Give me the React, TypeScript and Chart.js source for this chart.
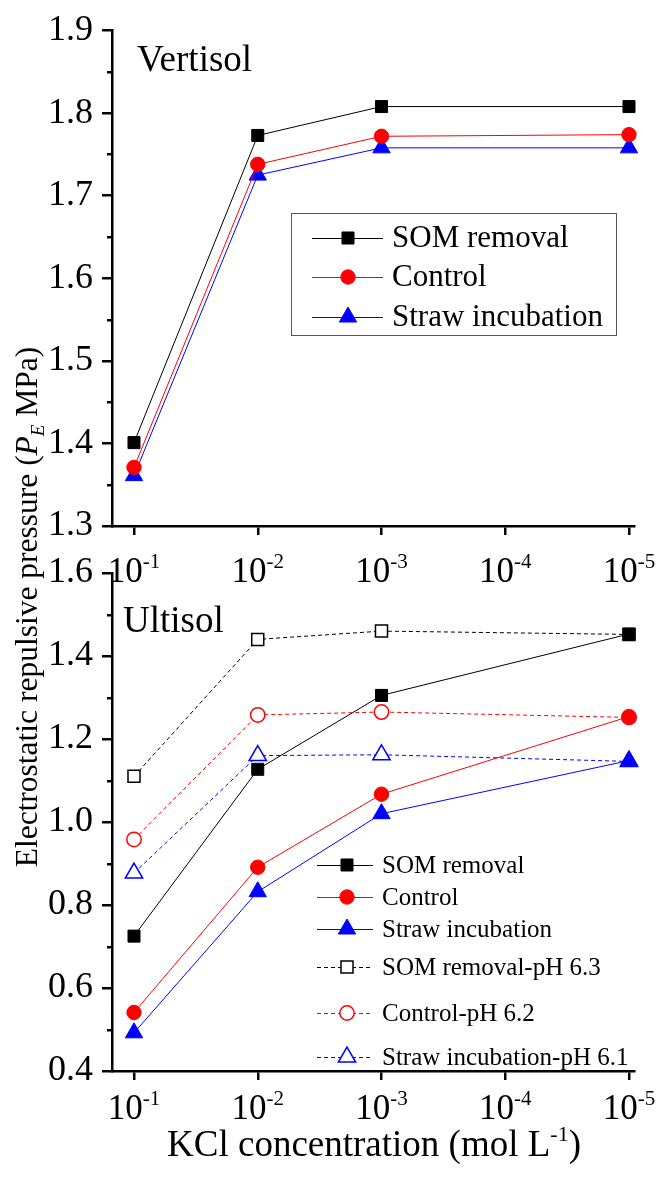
import React, { useEffect, useRef } from 'react';
import { Chart, registerables } from 'chart.js';

Chart.register(...registerables);

const FONT = '"Liberation Serif", "Times New Roman", Times, serif';

// ---- data ----
const concentrations = [1e-1, 1e-2, 1e-3, 1e-5];
const xTickValues = [1e-1, 1e-2, 1e-3, 1e-4, 1e-5];
const xTickExponents = ['-1', '-2', '-3', '-4', '-5'];

const vertSOM = [1.401, 1.773, 1.808, 1.808];
const vertControl = [1.371, 1.738, 1.772, 1.774];
const vertStraw = [1.361, 1.725, 1.758, 1.758];

const ultSOM = [0.725, 1.127, 1.305, 1.453];
const ultControl = [0.541, 0.891, 1.067, 1.254];
const ultStraw = [0.492, 0.832, 1.02, 1.148];
const ultSOMpH = [1.11, 1.44, 1.46, 1.452];
const ultControlpH = [0.958, 1.258, 1.265, 1.252];
const ultStrawpH = [0.877, 1.16, 1.162, 1.146];

const topMinorTicks = [1.35, 1.45, 1.55, 1.65, 1.75, 1.85];
const botMinorTicks = [0.5, 0.7, 0.9, 1.1, 1.3, 1.5];

const labelSOM = 'SOM removal';
const labelControl = 'Control';
const labelStraw = 'Straw incubation';
const labelSOMpH = 'SOM removal-pH 6.3';
const labelControlpH = 'Control-pH 6.2';
const labelStrawpH = 'Straw incubation-pH 6.1';

// ---- styles ----
const BLACK = '#000000';
const RED = '#ff0000';
const BLUE = '#0000ff';
const R_RECT = 8.5;
const R_CIRCLE = 7.2;
const R_TRI = 10;

const X_MIN = 9.11e-6;
const X_MAX = 0.1506;

type MarkerStyle = 'rect' | 'circle' | 'triangle';

function radiusFor(style: MarkerStyle) {
  return style === 'rect' ? R_RECT : style === 'circle' ? R_CIRCLE : R_TRI;
}

function makeDataset(label: string, values: number[], color: string, style: MarkerStyle, filled: boolean) {
  return {
    label,
    data: concentrations.map((c, i) => ({ x: c, y: values[i] })),
    borderColor: color,
    borderWidth: 1,
    borderDash: filled ? [] : [4, 3],
    pointStyle: style,
    pointRadius: radiusFor(style),
    pointHoverRadius: radiusFor(style),
    pointBackgroundColor: filled ? color : '#ffffff',
    pointBorderColor: color,
    pointBorderWidth: filled ? 1 : 1.5,
    tension: 0,
    fill: false,
    clip: false as any,
  };
}

function drawMarker(ctx: CanvasRenderingContext2D, style: MarkerStyle, x: number, y: number, color: string, filled: boolean) {
  const r = radiusFor(style);
  ctx.beginPath();
  if (style === 'rect') {
    const s = Math.SQRT1_2 * r;
    ctx.rect(x - s, y - s, 2 * s, 2 * s);
  } else if (style === 'circle') {
    ctx.arc(x, y, r, 0, Math.PI * 2);
  } else {
    ctx.moveTo(x, y - r);
    ctx.lineTo(x + r * Math.sin((2 * Math.PI) / 3), y - r * Math.cos((2 * Math.PI) / 3));
    ctx.lineTo(x + r * Math.sin((4 * Math.PI) / 3), y - r * Math.cos((4 * Math.PI) / 3));
    ctx.closePath();
  }
  ctx.fillStyle = filled ? color : '#ffffff';
  ctx.fill();
  ctx.setLineDash([]);
  ctx.lineWidth = filled ? 1 : 1.5;
  ctx.strokeStyle = color;
  ctx.stroke();
}

type LegendItem = { label: string; color: string; style: MarkerStyle; filled: boolean; y: number };

type Segment = { t: string; font: string; dy: number };

function drawSegments(ctx: CanvasRenderingContext2D, segs: Segment[], cx: number, baseline: number) {
  let total = 0;
  for (const s of segs) {
    ctx.font = s.font;
    total += ctx.measureText(s.t).width;
  }
  let x = cx - total / 2;
  ctx.textAlign = 'left';
  ctx.textBaseline = 'alphabetic';
  for (const s of segs) {
    ctx.font = s.font;
    ctx.fillText(s.t, x, baseline + s.dy);
    x += ctx.measureText(s.t).width;
  }
}

const overlayPlugin = {
  id: 'overlay',
  afterDraw(chart: any, _args: any, opts: any) {
    const ctx: CanvasRenderingContext2D = chart.ctx;
    const area = chart.chartArea;
    const xs = chart.scales.x;
    const ys = chart.scales.y;
    ctx.save();
    ctx.fillStyle = BLACK;
    ctx.strokeStyle = BLACK;

    // minor y ticks
    ctx.lineWidth = 2.5;
    ctx.setLineDash([]);
    for (const v of opts.minorTicks as number[]) {
      const py = Math.round(ys.getPixelForValue(v)) + 0.25;
      ctx.beginPath();
      ctx.moveTo(area.left - 5, py);
      ctx.lineTo(area.left, py);
      ctx.stroke();
    }

    // x tick labels 10^-n
    const base = area.bottom + opts.xLabelOffset;
    xTickValues.forEach((v, i) => {
      const px = xs.getPixelForValue(v);
      ctx.fillStyle = BLACK;
      drawSegments(
        ctx,
        [
          { t: '10', font: `35px ${FONT}`, dy: 0 },
          { t: xTickExponents[i], font: `21px ${FONT}`, dy: -14 },
        ],
        px,
        base
      );
    });

    // panel label
    ctx.font = `37px ${FONT}`;
    ctx.textAlign = 'left';
    ctx.textBaseline = 'alphabetic';
    ctx.fillText(opts.panelLabel, opts.panelLabelX, opts.panelLabelY);

    // legend
    const lg = opts.legend;
    if (lg.box) {
      ctx.lineWidth = 1;
      ctx.strokeStyle = '#555555';
      ctx.strokeRect(lg.box[0] + 0.5, lg.box[1] + 0.5, lg.box[2] - lg.box[0], lg.box[3] - lg.box[1]);
    }
    for (const it of lg.items as LegendItem[]) {
      ctx.beginPath();
      ctx.lineWidth = 1;
      ctx.strokeStyle = it.color;
      ctx.setLineDash(it.filled ? [] : [4, 3]);
      ctx.moveTo(lg.lineX1, it.y + 0.5);
      ctx.lineTo(lg.lineX2, it.y + 0.5);
      ctx.stroke();
      ctx.setLineDash([]);
      drawMarker(ctx, it.style, lg.markerX, it.y, it.color, it.filled);
      ctx.fillStyle = BLACK;
      ctx.font = `${lg.fontSize}px ${FONT}`;
      ctx.textAlign = 'left';
      ctx.textBaseline = 'middle';
      ctx.fillText(it.label, lg.textX, it.y + 1);
    }

    // axis titles
    if (opts.titles) {
      ctx.fillStyle = BLACK;
      drawSegments(
        ctx,
        [
          { t: 'KCl concentration (mol L', font: `37px ${FONT}`, dy: 0 },
          { t: '-1', font: `22px ${FONT}`, dy: -15 },
          { t: ')', font: `37px ${FONT}`, dy: 0 },
        ],
        opts.xTitleX,
        opts.xTitleY
      );
      ctx.save();
      ctx.translate(opts.yTitleX, opts.yTitleY);
      ctx.rotate(-Math.PI / 2);
      drawSegments(
        ctx,
        [
          { t: 'Electrostatic repulsive pressure (', font: `31.5px ${FONT}`, dy: 0 },
          { t: 'P', font: `italic 31.5px ${FONT}`, dy: 0 },
          { t: 'E', font: `italic 19px ${FONT}`, dy: 7 },
          { t: ' MPa)', font: `31.5px ${FONT}`, dy: 0 },
        ],
        0,
        11
      );
      ctx.restore();
    }
    ctx.restore();
  },
};

function axisOptions(yMin: number, yMax: number, step: number, xHeight: number) {
  return {
    x: {
      type: 'logarithmic' as const,
      reverse: true,
      min: X_MIN,
      max: X_MAX,
      afterBuildTicks: (scale: any) => {
        scale.ticks = xTickValues.map((v) => ({ value: v }));
      },
      afterFit: (scale: any) => {
        scale.height = xHeight;
      },
      ticks: { display: false },
      grid: {
        drawOnChartArea: false,
        drawTicks: true,
        tickLength: 9,
        tickWidth: 2.5,
        tickColor: BLACK,
        color: BLACK,
        lineWidth: 2.5,
      },
      border: { display: true, width: 2.5, color: BLACK },
    },
    y: {
      type: 'linear' as const,
      min: yMin,
      max: yMax,
      afterFit: (scale: any) => {
        scale.width = 112;
      },
      ticks: {
        stepSize: step,
        color: BLACK,
        padding: 9,
        font: { family: FONT, size: 36 },
        callback: (v: any) => Number(v).toFixed(1),
      },
      grid: {
        drawOnChartArea: false,
        drawTicks: true,
        tickLength: 10,
        tickWidth: 2.5,
        tickColor: BLACK,
        color: BLACK,
        lineWidth: 2.5,
      },
      border: { display: true, width: 2.5, color: BLACK },
    },
  };
}

const TOP_H = 600;
const BOT_H = 1178;

function buildTop(): any {
  return {
    type: 'line',
    data: {
      datasets: [
        makeDataset(labelSOM, vertSOM, BLACK, 'rect', true),
        makeDataset(labelControl, vertControl, RED, 'circle', true),
        makeDataset(labelStraw, vertStraw, BLUE, 'triangle', true),
      ],
    },
    options: {
      responsive: false,
      animation: false,
      events: [],
      layout: { padding: { top: 27, right: 24, left: 0, bottom: 0 } },
      scales: axisOptions(1.3, 1.9, 0.1, TOP_H - 526),
      plugins: {
        legend: { display: false },
        tooltip: { enabled: false },
        title: { display: false },
        overlay: {
          minorTicks: topMinorTicks,
          xLabelOffset: 56,
          panelLabel: 'Vertisol',
          panelLabelX: 137,
          panelLabelY: 71,
          legend: {
            box: [291, 213, 616, 335],
            lineX1: 312,
            lineX2: 383,
            markerX: 348,
            textX: 392,
            fontSize: 31,
            items: [
              { label: labelSOM, color: BLACK, style: 'rect', filled: true, y: 238 },
              { label: labelControl, color: RED, style: 'circle', filled: true, y: 277 },
              { label: labelStraw, color: BLUE, style: 'triangle', filled: true, y: 317 },
            ],
          },
          titles: false,
        },
      },
    },
    plugins: [overlayPlugin],
  };
}

function buildBottom(): any {
  return {
    type: 'line',
    data: {
      datasets: [
        makeDataset(labelSOM, ultSOM, BLACK, 'rect', true),
        makeDataset(labelControl, ultControl, RED, 'circle', true),
        makeDataset(labelStraw, ultStraw, BLUE, 'triangle', true),
        makeDataset(labelSOMpH, ultSOMpH, BLACK, 'rect', false),
        makeDataset(labelControlpH, ultControlpH, RED, 'circle', false),
        makeDataset(labelStrawpH, ultStrawpH, BLUE, 'triangle', false),
      ],
    },
    options: {
      responsive: false,
      animation: false,
      events: [],
      layout: { padding: { top: 573, right: 24, left: 0, bottom: 0 } },
      scales: axisOptions(0.4, 1.6, 0.2, BOT_H - 1071),
      plugins: {
        legend: { display: false },
        tooltip: { enabled: false },
        title: { display: false },
        overlay: {
          minorTicks: botMinorTicks,
          xLabelOffset: 48,
          panelLabel: 'Ultisol',
          panelLabelX: 123,
          panelLabelY: 632,
          legend: {
            box: null,
            lineX1: 317,
            lineX2: 373,
            markerX: 347,
            textX: 382,
            fontSize: 25,
            items: [
              { label: labelSOM, color: BLACK, style: 'rect', filled: true, y: 865 },
              { label: labelControl, color: RED, style: 'circle', filled: true, y: 897 },
              { label: labelStraw, color: BLUE, style: 'triangle', filled: true, y: 929 },
              { label: labelSOMpH, color: BLACK, style: 'rect', filled: false, y: 967 },
              { label: labelControlpH, color: RED, style: 'circle', filled: false, y: 1013 },
              { label: labelStrawpH, color: BLUE, style: 'triangle', filled: false, y: 1057 },
            ],
          },
          titles: true,
          xTitleX: 374,
          xTitleY: 1156,
          yTitleX: 26,
          yTitleY: 607,
        },
      },
    },
    plugins: [overlayPlugin],
  };
}

export default function App() {
  const topRef = useRef<HTMLCanvasElement>(null);
  const botRef = useRef<HTMLCanvasElement>(null);

  useEffect(() => {
    document.body.style.margin = '0';
    const c1 = new Chart(topRef.current as HTMLCanvasElement, buildTop());
    const c2 = new Chart(botRef.current as HTMLCanvasElement, buildBottom());
    return () => {
      c1.destroy();
      c2.destroy();
    };
  }, []);

  return (
    <div style={{ position: 'absolute', left: 0, top: 0, width: 658, height: 1178, background: '#ffffff' }}>
      <canvas ref={topRef} width={658} height={TOP_H} style={{ position: 'absolute', left: 0, top: 0 }} />
      <canvas ref={botRef} width={658} height={BOT_H} style={{ position: 'absolute', left: 0, top: 0 }} />
    </div>
  );
}
